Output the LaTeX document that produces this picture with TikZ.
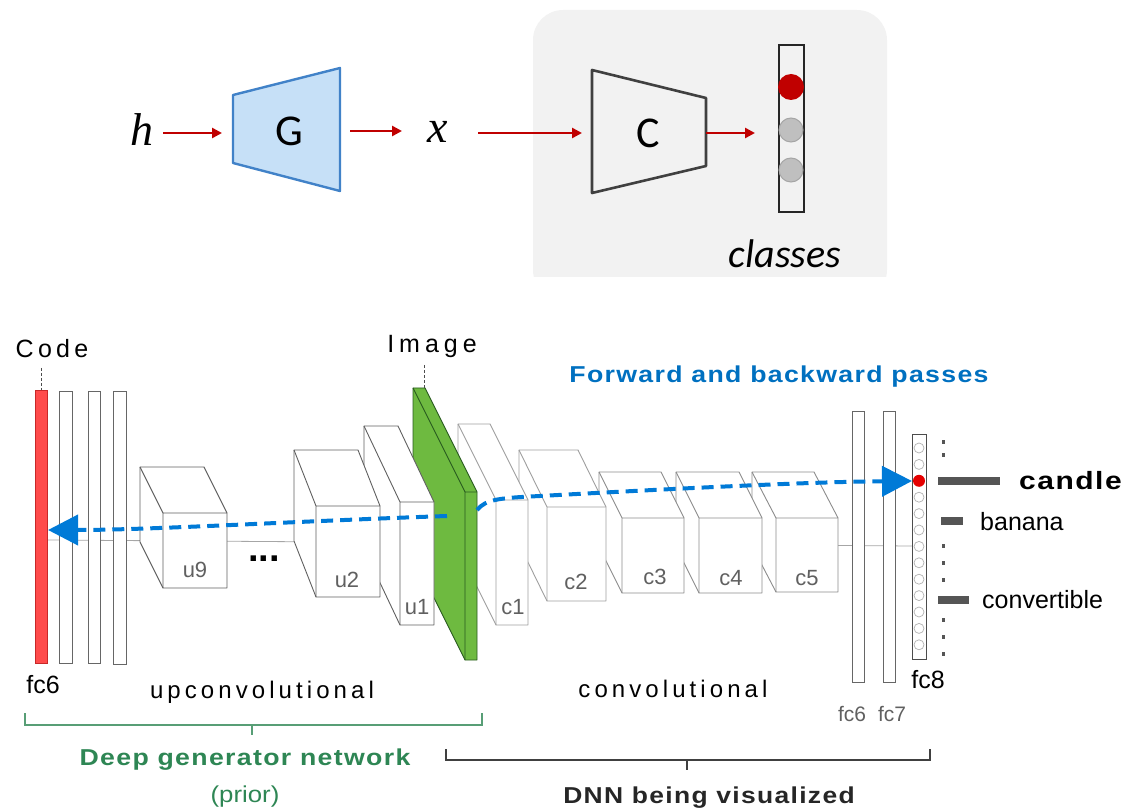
\documentclass[tikz,border=0pt]{standalone}
\usepackage{fontspec}
\setmainfont{Liberation Sans}
\newfontfamily\calibri{Carlito}
\newfontfamily\timesit{Liberation Serif}
\usetikzlibrary{arrows.meta,calc}

\definecolor{arrowred}{RGB}{192,0,0}
\definecolor{gfill}{RGB}{198,224,247}
\definecolor{gdraw}{RGB}{65,130,200}
\definecolor{panelgray}{RGB}{242,242,242}
\definecolor{passblue}{RGB}{0,122,215}
\definecolor{titleblue}{RGB}{0,112,192}
\definecolor{codered}{RGB}{255,75,75}
\definecolor{codeedge}{RGB}{200,40,40}
\definecolor{imggreen}{RGB}{110,186,64}
\definecolor{imgedge}{RGB}{40,90,30}
\definecolor{gentext}{RGB}{46,134,84}
\definecolor{bargray}{RGB}{85,85,85}
\definecolor{labgray}{RGB}{96,96,96}

% a layer drawn as a box: back top-left corner, front top-left corner, width, height
\newcommand\layerbox[7]{%
  \filldraw[fill=white,draw=#7,line width=0.9pt,line join=round]
    (#1,#2) -- ({#1+#5},#2) -- ({#3+#5},#4) -- ({#3+#5},{#4+#6})
    -- (#3,{#4+#6}) -- (#1,{#2+#6}) -- cycle;
  \draw[#7,line width=0.9pt] (#1,#2) -- (#3,#4) -- ({#3+#5},#4)
    (#3,#4) -- (#3,{#4+#6});}

% wide bold caption text
\newcommand\widebold[2]{\scalebox{#1}[1]{\bfseries\addfontfeatures{LetterSpace=5}#2}}

\tikzset{
  redarrow/.style={draw=arrowred,line width=2.6pt,-{Triangle[length=10pt,width=10pt]}},
  pass/.style={draw=passblue,line width=4pt,dash pattern=on 12pt off 7pt,
    -{Triangle[length=30pt,width=30pt]}},
  fcbar/.style={fill=white,draw=gray!80!black,line width=0.9pt},
  boxlabel/.style={text=labgray,font=\fontsize{22}{24}\selectfont,inner sep=0pt},
  spacedlabel/.style={inner sep=0pt,anchor=base},
  lblbar/.style={fill=bargray,draw=none},
  fcdot/.style={fill=bargray,draw=none},
  unit/.style={draw=gray!60,fill=white,line width=0.7pt},
}

\begin{document}
\begin{tikzpicture}[x=1pt,y=-1pt]
\useasboundingbox (0,0) rectangle (1125,810);

% ---------- generator / classifier sketch ----------
\begin{scope}
  \clip (0,0) rectangle (1125,277);
  \fill[panelgray,rounded corners=30pt] (533,10) rectangle (887,300);
\end{scope}

\node[inner sep=0pt,anchor=base] (h) at (142,146) {\fontsize{46}{50}\timesit\itshape h};
\filldraw[fill=gfill,draw=gdraw,line width=2.4pt,line join=round]
  (233,95) -- (340,68) -- (340,191) -- (233,163) -- cycle;
\node[inner sep=0pt] (G) at (289,131) {\fontsize{44}{48}\calibri G};
\node[inner sep=0pt,anchor=base] (x) at (438,143) {\fontsize{46}{50}\timesit\itshape x};

\filldraw[fill=panelgray,draw=black!75,line width=2.6pt,line join=round]
  (592,70) -- (706,98) -- (706,166) -- (592,193) -- cycle;
\node[inner sep=0pt] (C) at (648,133) {\fontsize{44}{48}\calibri C};

\draw[black!85,line width=2pt,fill=panelgray] (779,45) rectangle (804,212);
\fill[arrowred] (791,87) circle (13pt);
\filldraw[fill=black!25,draw=black!35,line width=1pt] (791,130) circle (12pt);
\filldraw[fill=black!25,draw=black!35,line width=1pt] (791,170) circle (12pt);
\node[inner sep=0pt,anchor=base] (classes) at (785,268)
  {\fontsize{40}{44}\calibri\itshape classes};

% arrow ends beside the sketch parts
\coordinate (hout) at (163,133);
\coordinate (Gin) at (222,133);
\coordinate (Gout) at (350,131);
\coordinate (xin) at (402,131);
\coordinate (xout) at (478,133);
\coordinate (Cin) at (582,133);
\coordinate (Cout) at (706,133);
\coordinate (clsin) at (755,133);
\draw[redarrow] (hout) -- (Gin);
\draw[redarrow] (Gout) -- (xin);
\draw[redarrow] (xout) -- (Cin);
\draw[redarrow] (Cout) -- (clsin);

% ---------- network diagram ----------
% thin axis through all layers
\draw[gray!70,line width=0.8pt] (47,540) -- (912,546);

% fully connected layers of the generator
\filldraw[fill=codered,draw=codeedge,line width=0.8pt] (35,390) rectangle (47,663);
\draw[fcbar] (59,391) rectangle (72,663);
\draw[fcbar] (88,391) rectangle (100,663);
\draw[fcbar] (113,391) rectangle (126,664);

% fully connected layers of the classifier
\draw[fcbar] (852,411) rectangle (864,682);
\draw[fcbar] (883,411) rectangle (895,682);
\draw[fcbar,draw=black!70] (912,434) rectangle (926,659);
\foreach \i in {0,...,12} {
  \ifnum\i=2
    \fill[red!90!black] (919,{448+16.4*\i}) circle (6pt);
  \else
    \draw[unit] (919,{448+16.4*\i}) circle (5pt);
  \fi
}

% convolutional layers (drawn back to front)
\layerbox{752}{472}{776}{518}{62}{74}{gray!90}
\layerbox{676}{472}{699}{518}{63}{75}{gray!90}
\layerbox{599}{472}{622}{518}{62}{75}{gray!90}
\layerbox{519}{450}{547}{507}{59}{94}{gray!75}
\layerbox{458}{424}{496}{500}{32}{125}{gray!75}

% generated image
\filldraw[fill=imggreen,draw=imgedge,line width=0.9pt,line join=round]
  (413,388) -- (425,388) -- (477,492) -- (477,660) -- (465,660) -- (413,556) -- cycle;
\draw[imgedge,line width=0.9pt] (413,388) -- (465,492) -- (477,492) (465,492) -- (465,660);

% upconvolutional layers
\layerbox{364}{426}{400}{502}{34}{123}{gray!75!black}
\layerbox{294}{450}{316}{506}{64}{91}{gray!75!black}
\layerbox{140}{467}{163}{513}{64}{75}{gray!75!black}

\node[boxlabel] (u9) at (195,570) {u9};
\node[boxlabel] (u2) at (347,580) {u2};
\node[boxlabel] (u1) at (417,607) {u1};
\node[boxlabel] (c1) at (513,607) {c1};
\node[boxlabel] (c2) at (576,582) {c2};
\node[boxlabel] (c3) at (655,577) {c3};
\node[boxlabel] (c4) at (731,578) {c4};
\node[boxlabel] (c5) at (807,578) {c5};
\node[inner sep=0pt,anchor=base] (ellipsis) at (264,561) {\fontsize{38}{38}\selectfont\bfseries ...};

% named ends of the passes
\coordinate (codeunit) at (48,530);
\coordinate (imgback) at (447,516);
\coordinate (imgfront) at (477,510);
\coordinate (candleunit) at (912,481);

\draw[pass] (imgback) .. controls (300,521) and (150,530) .. (codeunit);
\draw[pass] (imgfront) .. controls (486,499) and (500,498) .. (540,496)
  .. controls (650,490) and (800,482) .. (candleunit);

% class scores
\foreach \y in {442,455,546,563,580,620,637,654}
  \fill[fcdot] (941.5,{\y-1.75}) rectangle (945,{\y+1.75});
\fill[lblbar] (938,477) rectangle (1000,485);
\fill[lblbar] (941,517) rectangle (963,525);
\fill[lblbar] (938,596) rectangle (969,604);
\node[spacedlabel,anchor=base west] (candle) at (1019,489)
  {\fontsize{25}{28}\selectfont\widebold{1.2}{candle}};
\node[spacedlabel,anchor=base west] (banana) at (980,530)
  {\fontsize{25}{28}\selectfont banana};
\node[spacedlabel,anchor=base west] (convertible) at (982,608)
  {\fontsize{25}{28}\selectfont convertible};

% labels
\node[spacedlabel] (code) at (52,358)
  {\fontsize{25}{28}\selectfont\addfontfeatures{LetterSpace=17}Code};
\node[spacedlabel] (image) at (432,353)
  {\fontsize{25}{28}\selectfont\addfontfeatures{LetterSpace=20}Image};
\draw[black!70,line width=0.9pt,dash pattern=on 3pt off 2pt] (41,368) -- (41,390);
\draw[black!70,line width=0.9pt,dash pattern=on 3pt off 2pt] (424,365) -- (424,388);

\node[spacedlabel,text=titleblue] (passes) at (779,382)
  {\fontsize{23}{26}\selectfont\widebold{1.16}{Forward and backward passes}};

\node[spacedlabel] (fcsix) at (43,693) {\fontsize{25}{28}\selectfont fc6};
\node[spacedlabel] (fceight) at (928,688) {\fontsize{25}{28}\selectfont fc8};
\node[spacedlabel,text=labgray] (fcsixc) at (852,721) {\fontsize{21}{24}\selectfont fc6};
\node[spacedlabel,text=labgray] (fcseven) at (892,721) {\fontsize{21}{24}\selectfont fc7};

\node[spacedlabel] (upconv) at (262,698)
  {\fontsize{24}{27}\selectfont\addfontfeatures{LetterSpace=17}upconvolutional};
\node[spacedlabel] (conv) at (673,697)
  {\fontsize{24}{27}\selectfont\addfontfeatures{LetterSpace=17}convolutional};

% brackets
\draw[gentext!80,line width=1.6pt] (25,713) -- (25,725) -- (482,725) -- (482,713)
  (252,725) -- (252,735);
\draw[black!75,line width=1.6pt] (446,749) -- (446,760) -- (930,760) -- (930,749)
  (687,760) -- (687,770);

\node[spacedlabel,text=gentext] (dgn) at (245,765)
  {\fontsize{23}{26}\selectfont\widebold{1.16}{Deep generator network}};
\node[spacedlabel,text=gentext] (prior) at (245,802)
  {\fontsize{23}{26}\selectfont\scalebox{1.12}[1]{(prior)}};
\node[spacedlabel,text=black!85] (dnn) at (709,803)
  {\fontsize{23}{26}\selectfont\widebold{1.15}{DNN being visualized}};
\end{tikzpicture}
\end{document}
